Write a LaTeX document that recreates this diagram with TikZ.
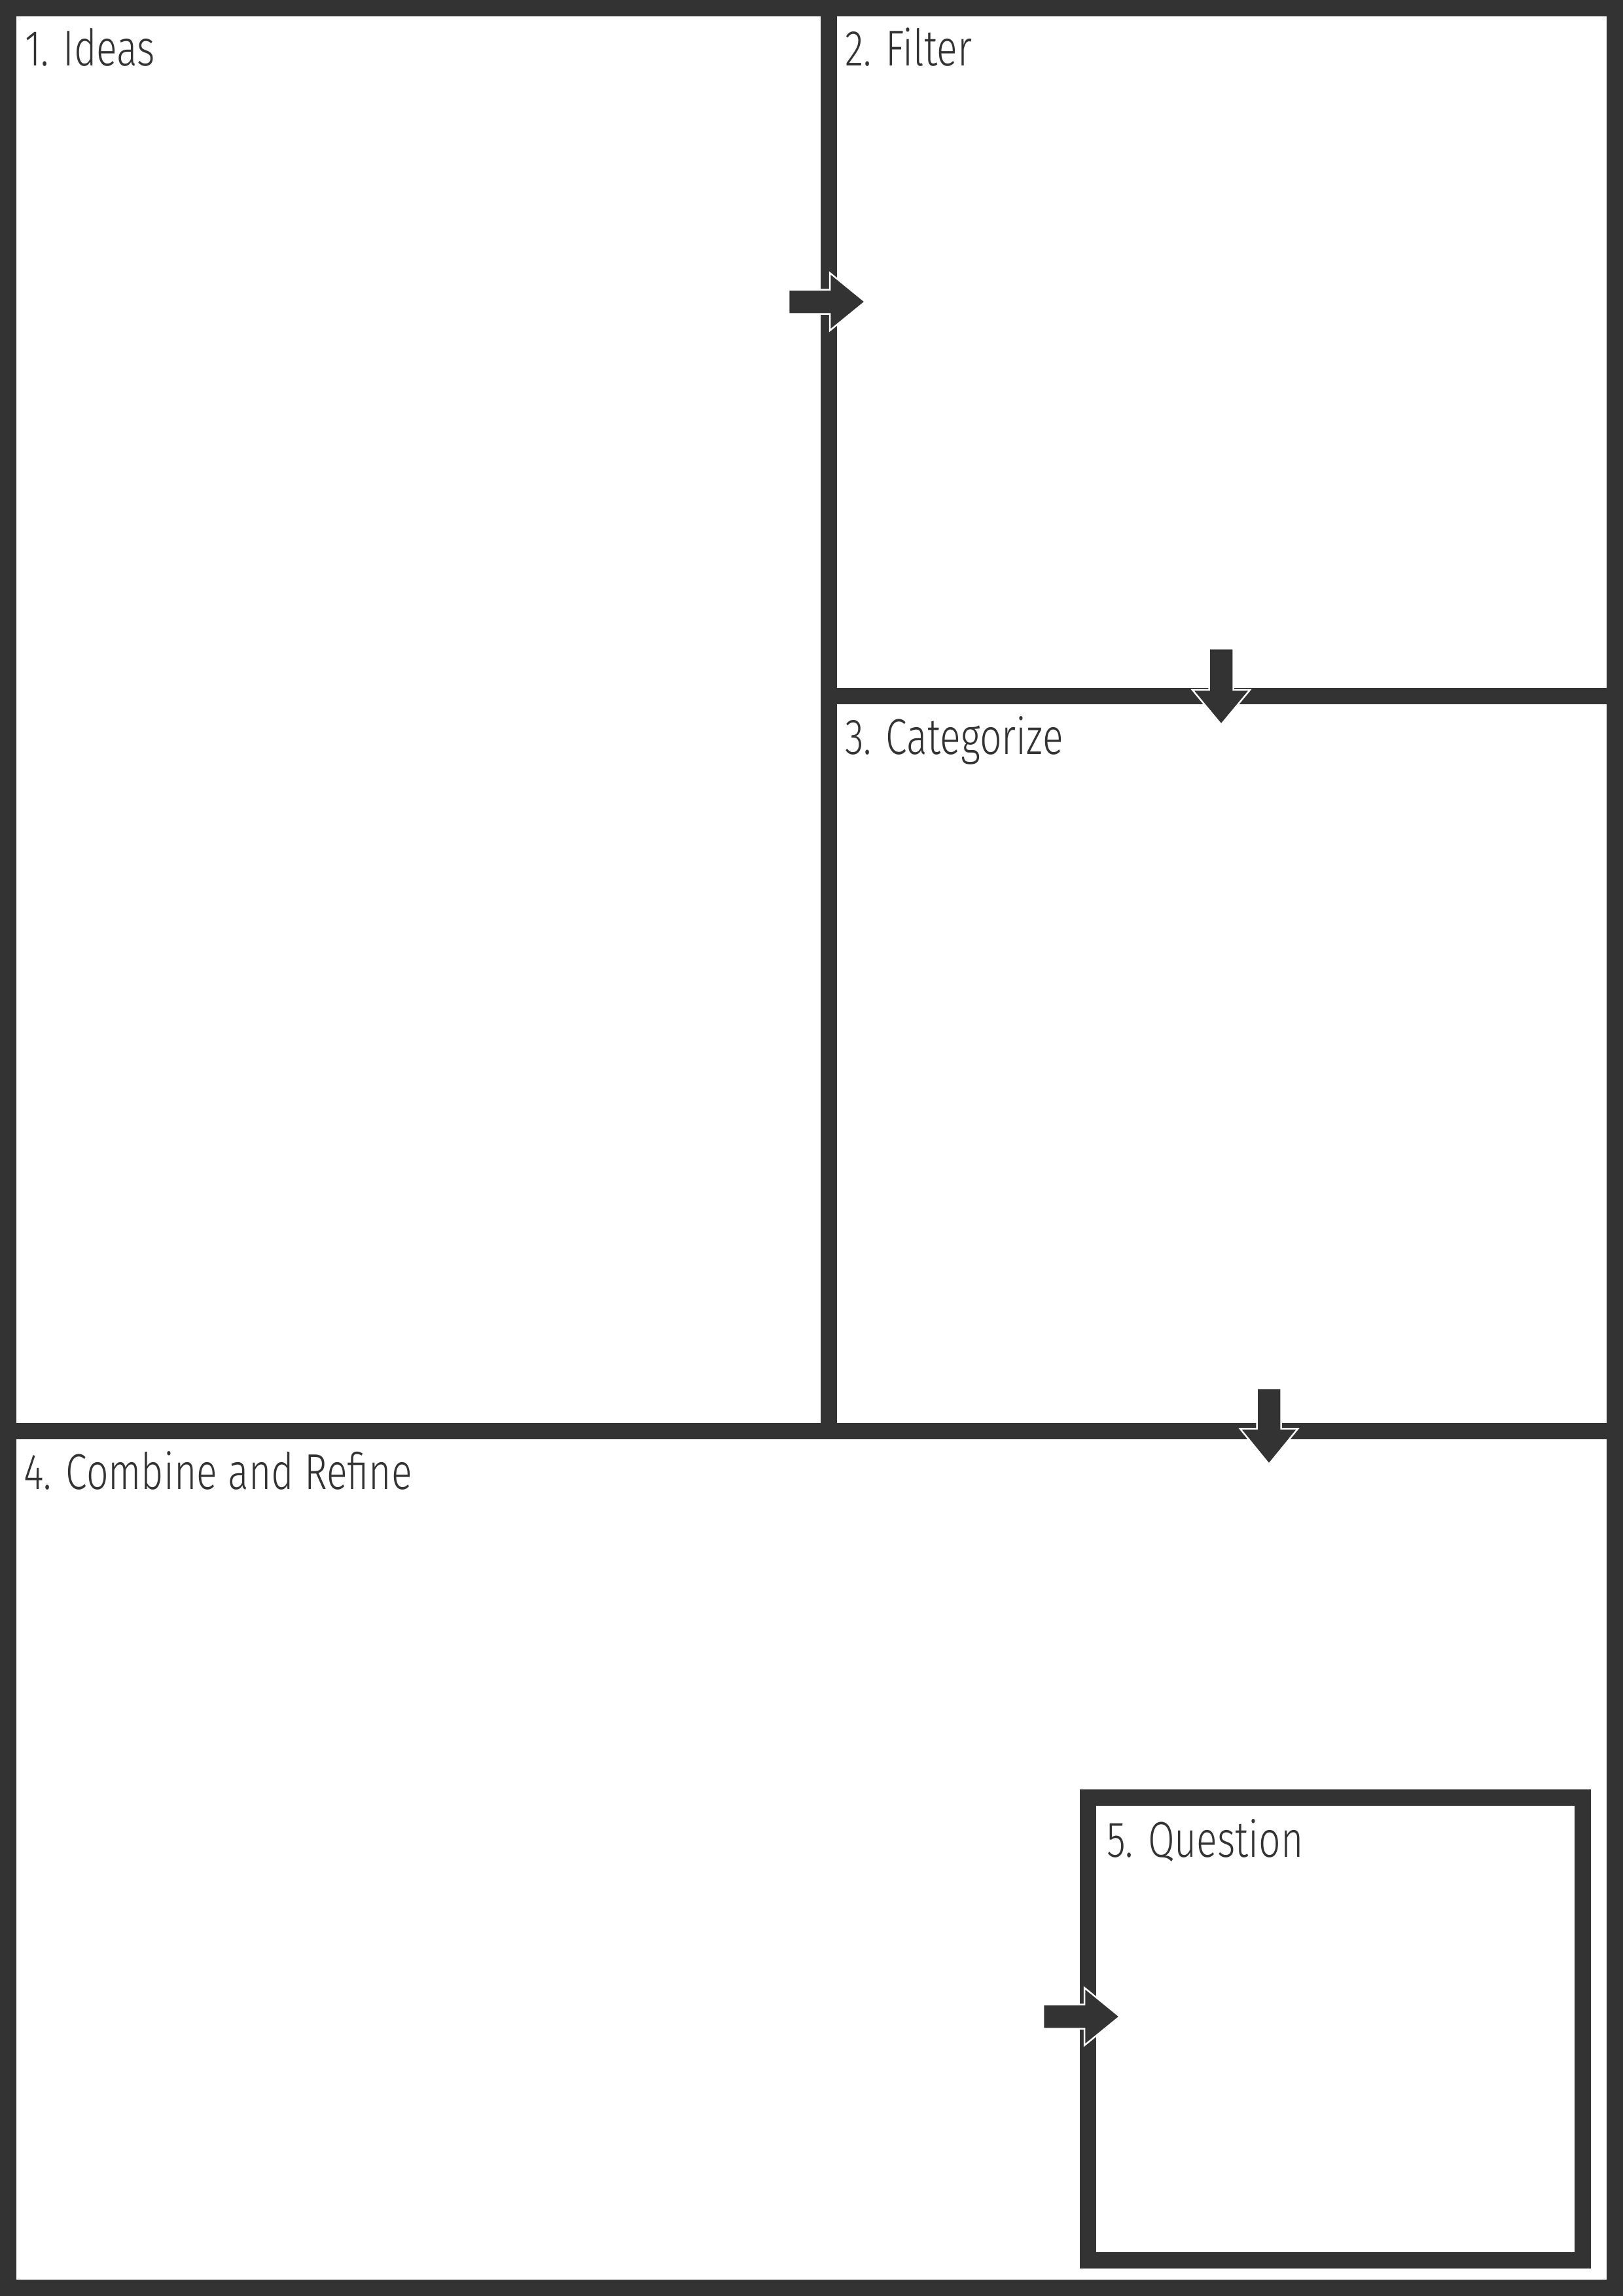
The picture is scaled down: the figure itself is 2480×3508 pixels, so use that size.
\documentclass[tikz,border=0pt]{standalone}
\usepackage{fontspec}
\newfontfamily\lblfont{Fira Sans Light}[FakeStretch=0.765]
\definecolor{ink}{RGB}{51,51,51}
\begin{document}
\begin{tikzpicture}[x=1pt,y=-1pt,
  frame/.style={draw=ink,line width=25pt},
  blockarrow/.style={fill=ink,draw=white,line width=2.5pt,line join=miter},
  lbl/.style={anchor=base west,inner sep=0pt,text=ink,font=\lblfont\fontsize{77}{90}\selectfont}]
\useasboundingbox (0,0) rectangle (2480,3508);
\fill[white] (0,0) rectangle (2480,3508);
% outer frame and dividers
\draw[frame] (12.5,12.5) rectangle (2467.5,3495.5);
\coordinate (vtop) at (1266.5,25);
\coordinate (vbot) at (1266.5,2174);
\coordinate (h1l) at (1279,1063.5);
\coordinate (h1r) at (2455,1063.5);
\coordinate (h2l) at (25,2186.5);
\coordinate (h2r) at (2455,2186.5);
\draw[frame] (vtop) -- (vbot);
\draw[frame] (h1l) -- (h1r);
\draw[frame] (h2l) -- (h2r);
\draw[frame] (1662.5,2746.5) rectangle (2418.5,3453.5);
% labels
\node[lbl] (ideas) at (38,101) {1. Ideas};
\node[lbl] (filter) at (1291,101) {2. Filter};
\node[lbl] (categ) at (1291,1152) {3. Categorize};
\node[lbl] (combine) at (36,2275) {4. Combine and Refine};
\node[lbl] (question) at (1691,2837) {5. Question};
% block arrows
\draw[blockarrow] (1205,442.5) -- (1268,442.5) -- (1268,417) -- (1322,461) -- (1268,505) -- (1268,479.5) -- (1205,479.5) -- cycle;
\draw[blockarrow] (1847.5,991) -- (1884.5,991) -- (1884.5,1054) -- (1910,1054) -- (1866,1107) -- (1822,1054) -- (1847.5,1054) -- cycle;
\draw[blockarrow] (1920.5,2121) -- (1957.5,2121) -- (1957.5,2183) -- (1983,2183) -- (1939,2237) -- (1895,2183) -- (1920.5,2183) -- cycle;
\draw[blockarrow] (1594,3062.5) -- (1657,3062.5) -- (1657,3037) -- (1711,3081) -- (1657,3125) -- (1657,3099.5) -- (1594,3099.5) -- cycle;
\end{tikzpicture}
\end{document}
